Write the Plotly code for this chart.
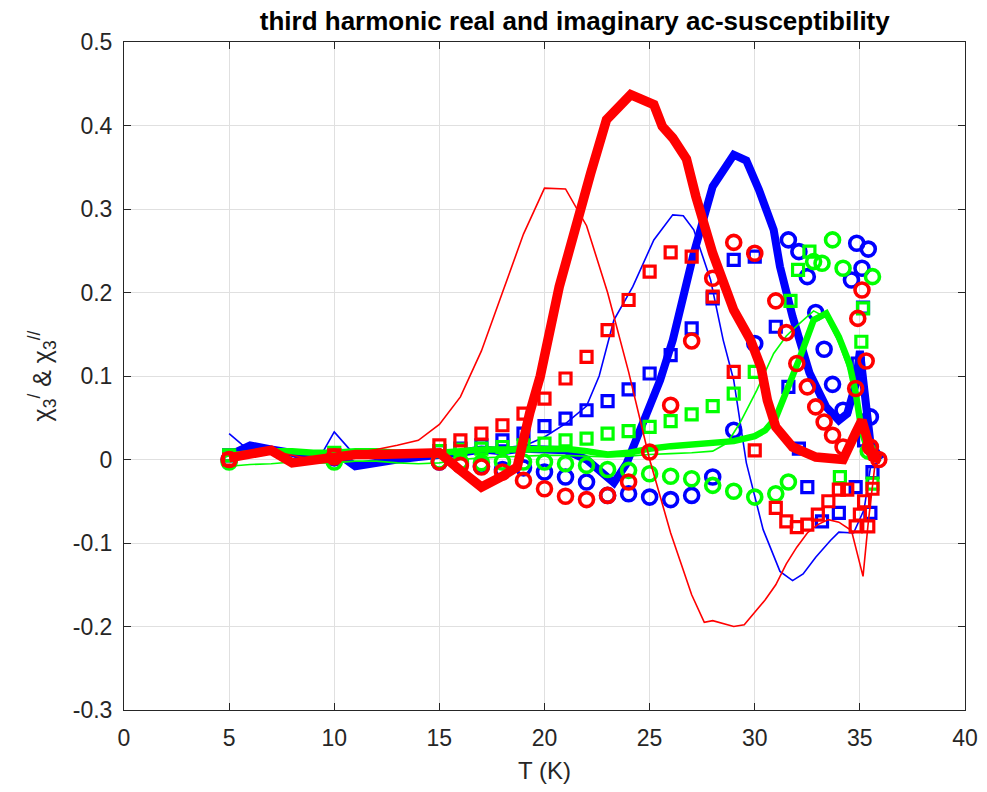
import plotly.graph_objects as go

# ---------------- data ----------------
# thin lines
red_thin_T = [5, 6, 7, 8, 9, 10, 11, 12, 13, 14, 15, 16, 17, 18, 19, 20, 21, 22, 23, 24, 25, 26, 27, 27.6, 28, 29, 29.5,
              30, 30.5, 31, 31.5, 32, 32.5, 33, 33.5, 34, 34.6, 35.15, 35.4, 35.7, 36]
red_thin_v = [0.0, 0.005, 0.01, 0.005, 0.0, 0.005, 0.008, 0.012, 0.017, 0.023, 0.042, 0.075, 0.13, 0.2, 0.27, 0.325,
              0.324, 0.28, 0.2, 0.105, 0.0, -0.088, -0.162, -0.195, -0.193, -0.2, -0.198, -0.183, -0.168, -0.15,
              -0.125, -0.105, -0.088, -0.078, -0.072, -0.075, -0.085, -0.14, -0.075, -0.01, 0.0]

blue_thin_T = [5, 5.6, 6, 7, 8, 9, 9.5, 10, 10.7, 11, 12, 13, 14, 15, 16, 17, 18, 19, 20, 21, 22, 22.6, 23.3, 24.2,
               25.2, 26.1, 26.6, 27.1, 27.9, 28.5, 29.0, 29.6, 30.4, 31.2, 31.8, 32.3, 32.9, 33.6, 34, 34.7, 35.2,
               35.5, 36]
blue_thin_v = [0.031, 0.018, 0.012, 0.01, 0.006, 0.004, 0.011, 0.033, 0.013, 0.005, 0.003, 0.004, 0.005, 0.006,
               0.008, 0.01, 0.012, 0.016, 0.027, 0.043, 0.064, 0.1, 0.167, 0.207, 0.263, 0.293, 0.292, 0.275, 0.215,
               0.143, 0.095, -0.004, -0.084, -0.134, -0.145, -0.137, -0.117, -0.097, -0.087, -0.088, -0.06, -0.01, 0.0]

green_thin_T = [5, 6, 7, 8, 9, 10, 11, 12, 13, 14, 15, 16, 17, 18, 19, 20, 21, 22, 23, 24, 25, 26, 27, 28, 28.7,
                29.3, 30.1, 30.9, 31.5, 32, 32.8, 33.4, 34, 34.5, 34.8, 35.1, 35.5, 36]
green_thin_v = [-0.008, -0.006, -0.005, -0.003, -0.004, -0.004, -0.002, -0.002, -0.004, -0.005, -0.004, 0.0, 0.002,
                0.003, 0.004, 0.005, 0.005, 0.004, 0.003, 0.004, 0.006, 0.007, 0.008, 0.01, 0.02, 0.044, 0.083,
                0.127, 0.148, 0.16, 0.178, 0.17, 0.14, 0.105, 0.07, 0.03, 0.0, 0.0]

# thick lines
red_thick_T = [5, 6, 7, 8, 9, 10, 11, 12, 13, 14, 15, 16, 17, 18, 18.7, 19.3, 19.8, 20.7, 21.7, 22.2, 22.95, 24.1,
               25.2, 25.6, 26.1, 26.75, 27.2, 28, 29, 29.8, 30.3, 30.6, 31, 31.8, 32.9, 34.2, 34.8, 35.1, 35.6, 36]
red_thick_v = [0.002, 0.006, 0.011, -0.004, 0.0, 0.003, 0.006, 0.006, 0.006, 0.007, 0.008, -0.013, -0.033, -0.02,
               -0.009, 0.056, 0.1, 0.207, 0.303, 0.343, 0.407, 0.437, 0.425, 0.399, 0.385, 0.36, 0.315, 0.247, 0.179,
               0.143, 0.11, 0.071, 0.039, 0.015, 0.003, 0.0, 0.032, 0.047, 0.003, 0.0]

blue_thick_T = [5, 6, 7, 8, 9, 10, 11, 12, 13, 14, 15, 16, 17, 18, 19, 20, 21, 22, 23, 23.3, 23.9, 24.85, 25.5, 26.1,
                27.1, 28, 29, 29.6, 30.2, 30.9, 31.2, 31.8, 32.6, 33.4, 34, 34.4, 34.8, 35.0, 35.2, 35.5, 36]
blue_thick_v = [0.005, 0.017, 0.012, 0.008, 0.0, 0.01, -0.008, -0.003, 0.0, 0.003, 0.005, 0.008, 0.012, 0.01, 0.013,
                0.013, 0.011, 0.0, -0.02, -0.028, -0.005, 0.056, 0.095, 0.143, 0.247, 0.327, 0.365, 0.358, 0.323,
                0.275, 0.231, 0.171, 0.104, 0.063, 0.047, 0.055, 0.09, 0.13, 0.09, 0.02, 0.0]

green_thick_T = [5, 6, 7, 8, 9, 10, 11, 12, 13, 14, 15, 16, 17, 18, 19, 20, 21, 22, 23, 24, 25, 26, 27, 28, 29, 30,
                 30.5, 31, 31.5, 32.1, 32.8, 33.4, 34, 34.5, 34.8, 35.1, 35.5, 36]
green_thick_v = [0.005, 0.008, 0.01, 0.01, 0.008, 0.008, 0.01, 0.01, 0.008, 0.008, 0.008, 0.01, 0.012, 0.012, 0.012,
                 0.012, 0.013, 0.01, 0.006, 0.008, 0.013, 0.016, 0.018, 0.02, 0.022, 0.028, 0.035, 0.05, 0.08, 0.119,
                 0.167, 0.175, 0.147, 0.115, 0.08, 0.032, 0.003, 0.0]

# square markers
red_sq_T = [5, 10, 15, 16, 17, 18, 19, 20, 21, 22, 23, 24, 25, 26, 27, 28, 29, 30, 31, 31.5, 32, 32.5, 33, 33.5, 34,
            34.4, 34.8, 35, 35.2, 35.4, 35.6]
red_sq_v = [0.0, 0.005, 0.017, 0.023, 0.031, 0.041, 0.055, 0.073, 0.097, 0.123, 0.155, 0.191, 0.225, 0.248, 0.243,
            0.195, 0.105, 0.011, -0.058, -0.074, -0.081, -0.078, -0.066, -0.05, -0.036, -0.036, -0.08, -0.066,
            -0.05, -0.08, -0.035]

blue_sq_T = [5, 10, 15, 16, 17, 18, 19, 20, 21, 22, 23, 24, 25, 26, 27, 28, 29, 30, 31, 31.6, 32.1, 32.5, 33.2, 34,
             34.8, 34.9, 35.15, 35.2, 35.5, 35.6]
blue_sq_v = [0.005, 0.005, 0.01, 0.013, 0.017, 0.023, 0.031, 0.04, 0.049, 0.059, 0.07, 0.084, 0.103, 0.125, 0.157,
             0.193, 0.239, 0.243, 0.159, 0.087, 0.013, -0.033, -0.074, -0.064, -0.033, 0.115, 0.182, 0.023, -0.064,
             -0.015]

green_sq_T = [5, 10, 15, 16, 17, 18, 19, 20, 21, 22, 23, 24, 25, 26, 27, 28, 29, 30, 31.7, 32.06, 32.6, 34.05, 35.07,
              35.15, 35.6]
green_sq_v = [0.005, 0.008, 0.01, 0.012, 0.013, 0.015, 0.017, 0.019, 0.023, 0.025, 0.031, 0.034, 0.039, 0.046, 0.054,
              0.064, 0.079, 0.105, 0.19, 0.227, 0.249, -0.021, 0.141, 0.181, -0.029]

# circle markers
red_ci_T = [5, 10, 15, 16, 17, 18, 19, 20, 21, 22, 23, 24, 25, 26, 27, 28, 29, 30, 31, 31.5, 32, 32.5, 32.9, 33.3,
            33.7, 34.2, 34.8, 34.9, 35.1, 35.3, 35.5, 35.9]
red_ci_v = [0.0, 0.003, -0.003, -0.007, -0.009, -0.015, -0.025, -0.035, -0.044, -0.048, -0.043, -0.027, 0.009, 0.065,
            0.142, 0.217, 0.26, 0.247, 0.19, 0.152, 0.115, 0.087, 0.063, 0.045, 0.029, 0.015, 0.085, 0.169, 0.203,
            0.118, 0.015, 0.0]

blue_ci_T = [5, 10, 15, 16, 17, 18, 19, 20, 21, 22, 23, 24, 25, 26, 27, 28, 29, 30, 31.6, 32.1, 32.5, 32.9, 33.3,
             33.7, 34.2, 34.6, 34.85, 35.1, 35.4, 35.5]
blue_ci_v = [0.0, 0.002, -0.003, -0.005, -0.008, -0.012, -0.01, -0.015, -0.021, -0.027, -0.043, -0.041, -0.045,
             -0.048, -0.043, -0.021, 0.035, 0.139, 0.263, 0.249, 0.219, 0.176, 0.132, 0.09, 0.059, 0.215, 0.259,
             0.229, 0.252, 0.051]

green_ci_T = [5, 10, 15, 16, 17, 18, 19, 20, 21, 22, 23, 24, 25, 26, 27, 28, 29, 30, 31, 31.6, 32.8, 33.2, 33.7,
              34.2, 35.4, 35.6]
green_ci_v = [-0.003, -0.003, -0.002, -0.003, -0.004, -0.003, -0.003, -0.003, -0.005, -0.007, -0.012, -0.013, -0.017,
              -0.02, -0.023, -0.031, -0.038, -0.045, -0.041, -0.027, 0.237, 0.235, 0.263, 0.229, 0.01, 0.219]

x_ticks = [0, 5, 10, 15, 20, 25, 30, 35, 40]
y_ticks = [-0.3, -0.2, -0.1, 0, 0.1, 0.2, 0.3, 0.4, 0.5]
y_tick_text = ["-0.3", "-0.2", "-0.1", "0", "0.1", "0.2", "0.3", "0.4", "0.5"]

RED, BLUE, GREEN = "#ff0000", "#0000ff", "#00ff00"
FONT = "Liberation Sans, Arial, Helvetica, sans-serif"
AX = "#262626"

fig = go.Figure()


def add_group(color, tT, tv, kT, kv, kw, sT, sv, cT, cv):
    fig.add_trace(go.Scatter(x=kT, y=kv, mode="lines", line=dict(color=color, width=kw)))
    fig.add_trace(go.Scatter(x=tT, y=tv, mode="lines", line=dict(color=color, width=1.6)))
    fig.add_trace(go.Scatter(x=sT, y=sv, mode="markers",
                             marker=dict(symbol="square-open", size=11, color=color, line=dict(width=3.2))))
    fig.add_trace(go.Scatter(x=cT, y=cv, mode="markers",
                             marker=dict(symbol="circle-open", size=14, color=color, line=dict(width=3.6))))


add_group(BLUE, blue_thin_T, blue_thin_v, blue_thick_T, blue_thick_v, 8, blue_sq_T, blue_sq_v, blue_ci_T, blue_ci_v)
add_group(GREEN, green_thin_T, green_thin_v, green_thick_T, green_thick_v, 6.5, green_sq_T, green_sq_v,
          green_ci_T, green_ci_v)
add_group(RED, red_thin_T, red_thin_v, red_thick_T, red_thick_v, 9.5, red_sq_T, red_sq_v, red_ci_T, red_ci_v)

axis_common = dict(showline=True, linecolor=AX, linewidth=1, mirror="ticks", ticks="inside", ticklen=7,
                   tickcolor=AX, tickwidth=1, showgrid=True, gridcolor="#e0e0e0", gridwidth=1, zeroline=False,
                   automargin=False, tickfont=dict(family=FONT, size=23, color=AX))

fig.update_layout(
    width=987, height=792,
    margin=dict(l=124, r=22, t=42, b=82, autoexpand=False),
    paper_bgcolor="white", plot_bgcolor="white",
    showlegend=False,
    title=dict(text="<b>third harmonic real and imaginary ac-susceptibility</b>", x=0.536, xref="paper",
               xanchor="center", y=0.974, yanchor="middle", font=dict(family=FONT, size=26, color="black")),
    xaxis=dict(range=[0, 40], tickvals=x_ticks, ticktext=[str(t) for t in x_ticks], ticklabelstandoff=7,
               title=dict(text="T (K)", font=dict(family=FONT, size=24, color=AX), standoff=12),
               **axis_common),
    yaxis=dict(range=[-0.3, 0.5], tickvals=y_ticks, ticktext=y_tick_text, ticklabelstandoff=6,
               title=dict(text="χ<sub>3</sub><sup>/</sup> & χ<sub>3</sub><sup>//</sup>",
                          font=dict(family=FONT, size=25, color=AX), standoff=14),
               **axis_common),
)

fig.write_html("out.html", config={"displayModeBar": False},
               post_script="document.body.style.margin='0';document.body.style.overflow='hidden';")
